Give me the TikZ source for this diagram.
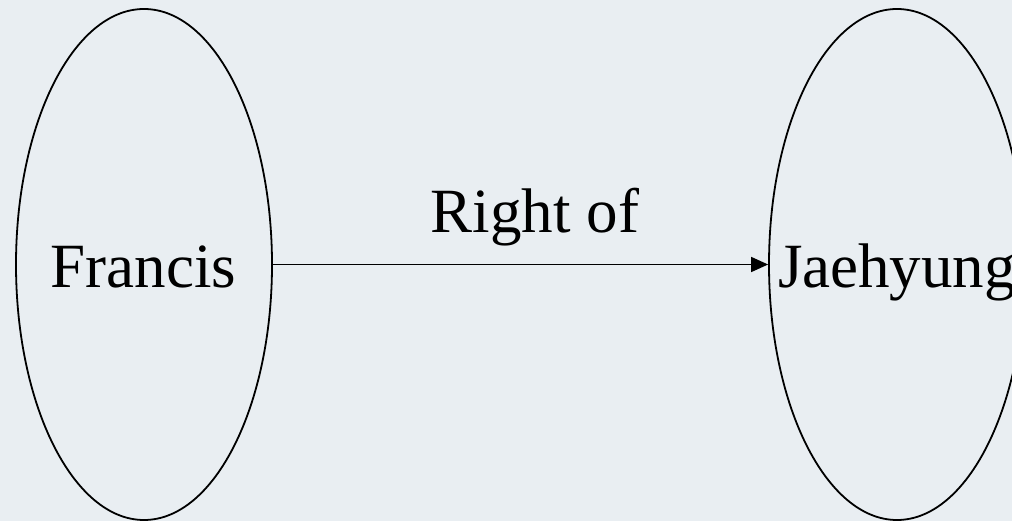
\documentclass[tikz,border=0pt]{standalone}
\usepackage{fontspec}
\setmainfont{Liberation Serif}
\usetikzlibrary{shapes.geometric,arrows.meta}
\definecolor{bgcol}{RGB}{233,238,242}
\tikzset{
  entity/.style={ellipse, draw=black, line width=1.8pt, minimum width=256pt, minimum height=511pt, inner sep=0pt},
  lbl/.style={anchor=base, inner sep=0pt, font=\fontsize{63}{70}\selectfont},
  rel/.style={line width=1.5pt, -{Triangle[length=17pt,width=15pt]}}
}
\begin{document}
\begin{tikzpicture}[x=1pt,y=-1pt]
\fill[bgcol] (0,0) rectangle (1012,521);
\useasboundingbox (0,0) rectangle (1012,521);
\clip (0,0) rectangle (1012,521);
\node[entity] (f) at (144,264.5) {};
\node[entity] (j) at (897,264.5) {};
\node[lbl] (ft) at (143.5,288) {Francis};
\node[lbl] (jt) at (897,288) {Jaehyung};
\draw[rel] (f.east) -- (j.west);
\node[lbl] (rt) at (535,233) {Right of};
\end{tikzpicture}
\end{document}
